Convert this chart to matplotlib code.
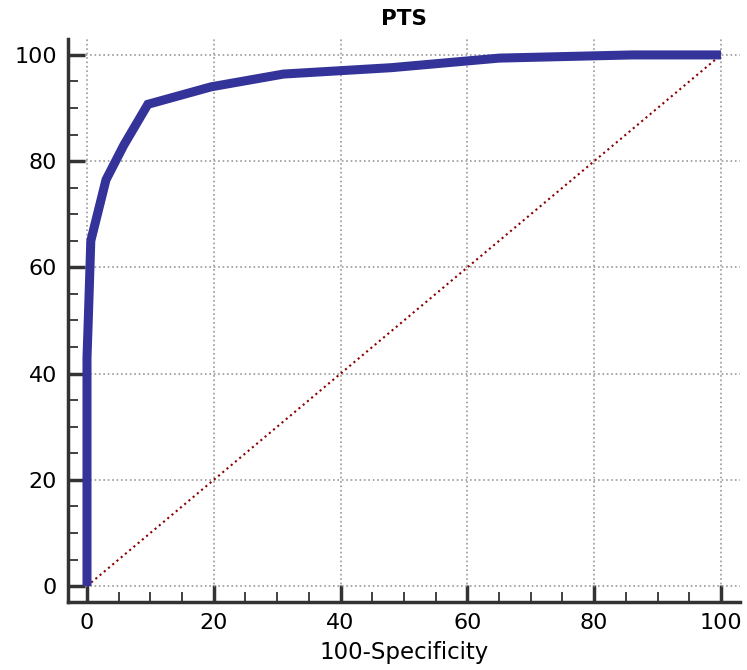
import matplotlib.pyplot as plt
from matplotlib.ticker import MultipleLocator

plt.rcParams['font.family'] = ['DejaVu Sans']

# ROC-Kurve
fpr = [0, 0, 0.2, 0.6, 3, 5.8, 9.6, 19.6, 31, 48, 65, 86, 100]
tpr = [0, 43, 50, 65, 76.5, 83, 90.7, 94, 96.4, 97.6, 99.4, 100, 100]
diag = [0, 100]
ticks = [0, 20, 40, 60, 80, 100]

fig = plt.figure(figsize=(7.47, 6.70), dpi=100)
ax = fig.add_axes([0.091, 0.1015, 0.8996, 0.8403])

ax.plot(diag, diag, linestyle=':', color='#8b0000', linewidth=1.5, zorder=2)
ax.plot(fpr, tpr, color='#333399', linewidth=6.5, solid_joinstyle='miter',
        solid_capstyle='butt', zorder=3)

ax.set_xlim(-3, 103)
ax.set_ylim(-3, 103)
ax.set_xticks(ticks)
ax.set_yticks(ticks)
ax.xaxis.set_minor_locator(MultipleLocator(5))
ax.yaxis.set_minor_locator(MultipleLocator(5))

ax.grid(True, which='major', linestyle=':', color='#999999', linewidth=1.2)
ax.set_axisbelow(True)

for s in ['top', 'right']:
    ax.spines[s].set_visible(False)
for s in ['left', 'bottom']:
    ax.spines[s].set_linewidth(2.5)
    ax.spines[s].set_color('#333333')

ax.tick_params(which='major', direction='in', length=12, width=2.5,
               color='#333333', labelsize=16, pad=8)
ax.tick_params(which='minor', direction='in', length=7, width=1.3,
               color='#333333')

ax.set_xlabel('100-Specificity', fontsize=16.5, labelpad=6)
ax.set_title('PTS', fontsize=15.5, fontweight='bold', pad=10)

fig.savefig('out.png', dpi=100)
